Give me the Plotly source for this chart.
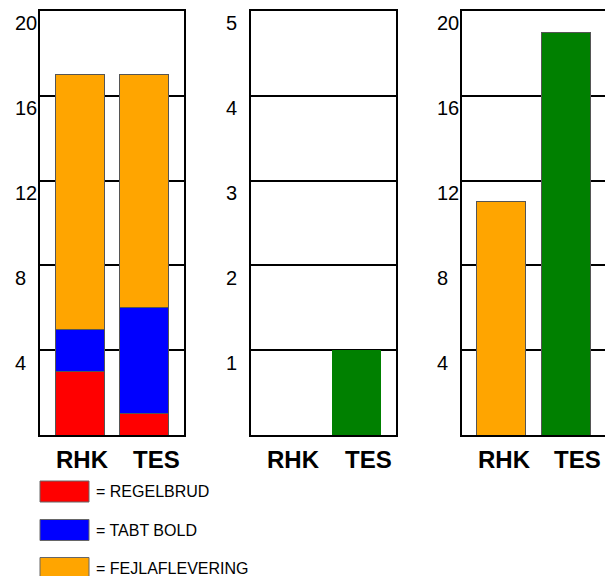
import plotly.graph_objects as go

# ---- data ----
teams = ["RHK", "TES"]
regelbrud = [3, 1]
tabt_bold = [2, 5]
fejlaflevering = [12, 11]
middle_values = [0, 1]
right_values = [11, 19]
left_ticks = [4, 8, 12, 16, 20]
middle_ticks = [1, 2, 3, 4, 5]
right_ticks = [4, 8, 12, 16, 20]
legend_labels = ["= REGELBRUD", "= TABT BOLD", "= FEJLAFLEVERING"]

RED, BLUE, ORANGE, GREEN = "#FF0000", "#0000FF", "#FFA500", "#008000"
FONT = "Liberation Sans, Arial, sans-serif"
W, H = 605, 576

def px(xp):
    return xp / W

def py(yp):
    return 1 - yp / H

edge = dict(color="#555555", width=1)
bw = 0.754

fig = go.Figure()
fig.add_bar(x=teams, y=regelbrud, marker=dict(color=RED, line=edge), width=bw, xaxis="x", yaxis="y")
fig.add_bar(x=teams, y=tabt_bold, marker=dict(color=BLUE, line=edge), width=bw, xaxis="x", yaxis="y")
fig.add_bar(x=teams, y=fejlaflevering, marker=dict(color=ORANGE, line=edge), width=bw, xaxis="x", yaxis="y")
fig.add_bar(x=teams, y=middle_values, marker=dict(color=GREEN, line=dict(width=0)), width=bw, xaxis="x2", yaxis="y2")
fig.add_bar(x=teams, y=right_values, marker=dict(color=[ORANGE, GREEN], line=edge), width=bw, xaxis="x3", yaxis="y3")

ydom = [py(435), py(11)]
xdoms = [[px(40), px(184)], [px(251), px(396)], [px(462), 1.0]]
xr = [-0.608, 1.608]

layout = dict(
    width=W, height=H, barmode="stack", showlegend=False,
    margin=dict(l=0, r=0, t=0, b=0),
    paper_bgcolor="white", plot_bgcolor="white",
    font=dict(family=FONT, color="black"),
)
ranges = [[0, 20], [0, 5], [0, 20]]
dticks = [4, 1, 4]
for i in range(3):
    sx = "" if i == 0 else str(i + 1)
    layout["xaxis" + sx] = dict(domain=xdoms[i], anchor="y" + sx, type="category",
                                range=xr, showticklabels=False, ticks="",
                                showline=True, linecolor="black", linewidth=2,
                                mirror=True, showgrid=False, zeroline=False)
    layout["yaxis" + sx] = dict(domain=ydom, anchor="x" + sx, range=ranges[i],
                                dtick=dticks[i], showticklabels=False, ticks="",
                                showline=True, linecolor="black", linewidth=2,
                                mirror=(i != 2), showgrid=True, gridcolor="black",
                                gridwidth=1.5, zeroline=False)
fig.update_layout(**layout)

ann = []
for i, ticks in enumerate([left_ticks, middle_ticks, right_ticks]):
    sx = "" if i == 0 else str(i + 1)
    for t in ticks:
        ann.append(dict(xref="x" + sx + " domain", yref="y" + sx, x=0, y=t,
                        xanchor="left", yanchor="middle", xshift=-27, yshift=-12.5,
                        text=str(t), showarrow=False,
                        font=dict(size=20, family=FONT, color="black")))
    for team, shift in zip(teams, [3, 12]):
        ann.append(dict(xref="x" + sx, yref="y" + sx + " domain", x=team, y=0,
                        xanchor="center", yanchor="middle", xshift=shift, yshift=-24,
                        text="<b>" + team + "</b>", showarrow=False,
                        font=dict(size=24, family=FONT, color="black")))

shapes = []
legend_colors = [RED, BLUE, ORANGE]
legend_y = [491.5, 530, 568]
for lab, col, yc in zip(legend_labels, legend_colors, legend_y):
    shapes.append(dict(type="rect", xref="paper", yref="paper",
                       x0=px(40), x1=px(89), y0=py(yc + 10.5), y1=py(yc - 10.5),
                       fillcolor=col, line=dict(color="#666666", width=1)))
    ann.append(dict(xref="paper", yref="paper", x=px(94), y=py(yc),
                    xanchor="left", yanchor="middle", text=lab, showarrow=False,
                    font=dict(size=16, family=FONT, color="black")))

fig.update_layout(annotations=ann, shapes=shapes)
fig.write_html("out.html", config={"displayModeBar": False})

with open("out.html", "r", encoding="utf-8") as f:
    html = f.read()
html = html.replace("<head>", "<head><style>html,body{margin:0;padding:0;overflow:hidden;}</style>", 1)
with open("out.html", "w", encoding="utf-8") as f:
    f.write(html)
